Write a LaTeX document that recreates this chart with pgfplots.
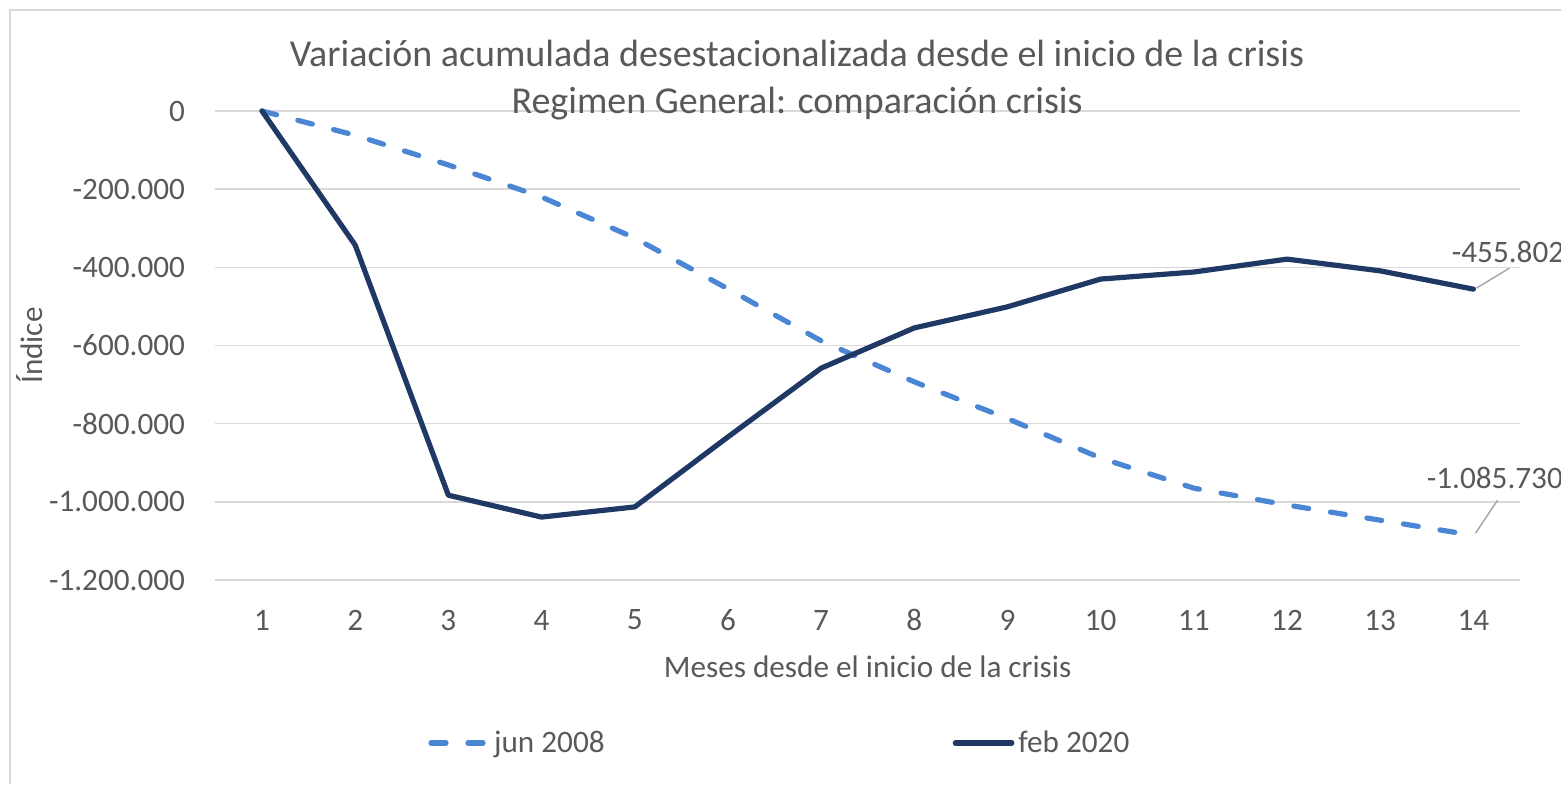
\documentclass[border=0pt]{standalone}
\usepackage{fontspec}
\setmainfont{Carlito}
\usepackage{pgfplots}
\pgfplotsset{compat=1.18}
\definecolor{txt}{HTML}{595959}
\definecolor{gridc}{HTML}{D9D9D9}
\definecolor{lightb}{HTML}{4A86D4}
\definecolor{navy}{HTML}{1F3864}
\newcommand{\lab}{\fontsize{15.6}{18}\selectfont}
\begin{document}
\begin{tikzpicture}[x=1pt,y=1pt]
\path[use as bounding box] (0,0) rectangle (780.5,392);
\draw[gridc, line width=0.8pt] (5,0) -- (5,387) -- (782,387);
\begin{axis}[
  at={(107.7pt,102pt)}, anchor=south west,
  scale only axis, width=652.3pt, height=234.5pt,
  xmin=0.5, xmax=14.5, ymin=-1200000, ymax=0,
  axis line style={draw=none},
  xtick={1,2,...,14},
  xticklabels={1,2,3,4,5,6,7,8,9,10,11,12,13,14},
  ytick={-1200000,-1000000,-800000,-600000,-400000,-200000,0},
  yticklabels={-1.200.000,-1.000.000,-800.000,-600.000,-400.000,-200.000,0},
  scaled y ticks=false,
  ymajorgrids, grid style={gridc, line width=0.8pt},
  major tick length=0pt,
  tick label style={font=\lab, text=txt},
  xticklabel style={anchor=center, inner sep=0pt, yshift=-20pt},
  yticklabel style={anchor=east, inner sep=0pt, xshift=-15pt},
  clip=false,
  legend columns=2,
  legend style={at={(0.163,-0.3475)}, anchor=west, draw=none, fill=none,
    font=\lab, text=txt, inner sep=0pt,
    /tikz/every even column/.append style={column sep=172pt}},
  legend image code/.code={\draw[#1] (1.25pt,0pt) -- (29.5pt,0pt);},
]
\addplot[lightb, line width=2.6pt, line cap=round, line join=round, dash pattern=on 7.5pt off 11pt] coordinates {
(1,0) (2,-62000) (3,-138000) (4,-220000) (5,-325000) (6,-455000) (7,-588000)
(8,-693000) (9,-787000) (10,-888000) (11,-965000) (12,-1008000) (13,-1047000) (14,-1085730)};
\addlegendentry{jun 2008}
\addplot[navy, line width=2.6pt, line cap=round, line join=round] coordinates {
(1,0) (2,-343000) (3,-983000) (4,-1039000) (5,-1013000) (6,-834000) (7,-658000)
(8,-555000) (9,-501000) (10,-430000) (11,-412000) (12,-379000) (13,-409000) (14,-455802)};
\addlegendentry{feb 2020}
\draw[gray!70, line width=0.7pt] (axis cs:14,-455802) ++(1.5pt,0.5pt) -- ++(16.5pt,10pt);
\draw[gray!70, line width=0.7pt] (axis cs:14,-1085730) ++(1pt,1pt) -- ++(11pt,16.5pt);
\node[anchor=west, inner sep=0pt, font=\lab, text=txt, xshift=-11pt, yshift=18.5pt] at (axis cs:14,-455802) {-455.802};
\node[anchor=west, inner sep=0pt, font=\lab, text=txt, xshift=-23.5pt, yshift=28.5pt] at (axis cs:14,-1085730) {-1.085.730};
\end{axis}
\node[text=txt, font=\fontsize{19}{22}\selectfont, inner sep=0pt] at (398.5,365.5) {Variación acumulada desestacionalizada desde el inicio de la crisis};
\node[text=txt, font=\fontsize{19}{22}\selectfont, inner sep=0pt] at (398.5,340) {Regimen General: comparación crisis};
\node[text=txt, font=\lab, inner sep=0pt, rotate=90] at (15,219.25) {Índice};
\node[text=txt, font=\lab, inner sep=0pt] at (433.8,58.5) {Meses desde el inicio de la crisis};
\end{tikzpicture}
\end{document}
